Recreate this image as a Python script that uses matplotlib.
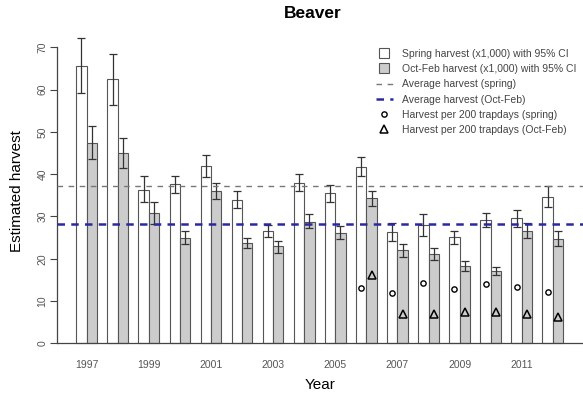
import numpy as np
import matplotlib
matplotlib.use("Agg")
import matplotlib.pyplot as plt
from matplotlib.lines import Line2D

plt.rcParams['font.family'] = ['Liberation Sans', 'DejaVu Sans']

years = list(range(1997, 2013))
spring = [65.6, 62.4, 36.3, 37.6, 41.9, 33.9, 26.6, 38.0, 35.5, 41.8, 26.4, 28.0, 25.1, 29.2, 29.6, 34.7]
spring_lo = [59.1, 56.3, 33.3, 35.6, 39.3, 31.9, 25.2, 35.9, 33.3, 39.6, 24.3, 25.4, 23.5, 27.6, 27.6, 32.3]
spring_hi = [72.1, 68.3, 39.6, 39.6, 44.5, 35.9, 28.0, 40.0, 37.4, 44.1, 28.4, 30.5, 26.6, 30.9, 31.5, 37.2]
octfeb = [47.4, 45.1, 30.7, 25.0, 36.0, 23.8, 22.9, 28.8, 26.2, 34.3, 22.1, 21.1, 18.3, 17.2, 26.6, 24.7]
octfeb_lo = [43.5, 41.5, 28.1, 23.4, 34.2, 22.6, 21.4, 27.2, 24.7, 32.5, 20.3, 19.7, 17.2, 16.2, 24.9, 22.9]
octfeb_hi = [51.3, 48.6, 33.3, 26.5, 37.8, 25.0, 24.2, 30.5, 27.7, 36.0, 23.4, 22.6, 19.4, 18.1, 28.4, 26.5]
avg_spring = 37.2
avg_octfeb = 28.2
# trapday rates only from 2006 on
trap_years = [2006, 2007, 2008, 2009, 2010, 2011, 2012]
trap_spring = [13.0, 12.0, 14.2, 12.8, 14.0, 13.3, 12.2]
trap_octfeb = [16.2, 6.9, 6.9, 7.3, 7.5, 6.9, 6.3]

fig = plt.figure(figsize=(5.83, 4.0), dpi=100)
ax = fig.add_axes([57.3 / 583, 1 - 355.5 / 400, 1 - 57.3 / 583, (355.5 - 26.6) / 400])

n = len(years)
idx = np.arange(n)
x_sp = 1.5 + 3 * idx
x_of = 2.5 + 3 * idx
edge = '#555555'

ax.bar(x_sp, spring, width=1.0, color='white', edgecolor=edge, linewidth=0.8, zorder=2)
ax.bar(x_of, octfeb, width=1.0, color='#cccccc', edgecolor=edge, linewidth=0.8, zorder=2)

sp = np.array(spring)
of = np.array(octfeb)
ax.errorbar(x_sp, sp, yerr=[sp - np.array(spring_lo), np.array(spring_hi) - sp],
            fmt='none', ecolor='#333333', elinewidth=0.9, capsize=3, capthick=0.9, zorder=3)
ax.errorbar(x_of, of, yerr=[of - np.array(octfeb_lo), np.array(octfeb_hi) - of],
            fmt='none', ecolor='#333333', elinewidth=0.9, capsize=3, capthick=0.9, zorder=3)

ax.axhline(avg_spring, color='#777777', lw=1.0, ls=(0, (4, 4)), zorder=4)
ax.axhline(avg_octfeb, color='#2a2aa0', lw=1.8, ls=(0, (3, 2.5)), zorder=4)

ti = np.array([years.index(y) for y in trap_years])
ax.plot(1.5 + 3 * ti, trap_spring, 'o', ms=3.8, mfc='white', mec='black', mew=1.0, ls='none', zorder=5)
ax.plot(2.5 + 3 * ti, trap_octfeb, '^', ms=5.8, mfc='none', mec='black', mew=1.1, ls='none', zorder=5)

ax.axhline(0, color='#444444', lw=0.9, zorder=3)

ax.set_xlim(-0.83, 49.91)
ax.set_ylim(-2.88, 74.88)
for s in ['top', 'right', 'bottom']:
    ax.spines[s].set_visible(False)
ax.spines['left'].set_bounds(0, 70)
ax.spines['left'].set_color('#444444')
ax.spines['left'].set_linewidth(0.9)

ax.set_yticks(range(0, 80, 10))
ax.tick_params(axis='y', length=5, color='#444444', labelsize=7.5, labelcolor='#555555', pad=2)
for lab in ax.get_yticklabels():
    lab.set_rotation(90)
    lab.set_va('center')

odd = [i for i, y in enumerate(years) if y % 2 == 1]
ax.set_xticks(2 + 3 * np.array(odd))
ax.set_xticklabels([str(years[i]) for i in odd])
ax.tick_params(axis='x', length=0, labelsize=7.5, labelcolor='#555555', pad=3)

ax.set_ylabel('Estimated harvest', fontsize=11, labelpad=10)
ax.set_xlabel('Year', fontsize=11, labelpad=6)
fig.text(313 / 583, 1 - 14 / 400, 'Beaver', fontsize=12.5, fontweight='bold', ha='center', va='center')

handles = [
    Line2D([], [], marker='s', ms=7.5, mfc='white', mec=edge, mew=0.8, ls='none'),
    Line2D([], [], marker='s', ms=7.5, mfc='#cccccc', mec=edge, mew=0.8, ls='none'),
    Line2D([], [], color='#777777', lw=1.0, ls=(0, (4, 4))),
    Line2D([], [], color='#2a2aa0', lw=1.8, ls=(0, (3, 2.5))),
    Line2D([], [], marker='o', ms=3.8, mfc='white', mec='black', mew=1.0, ls='none'),
    Line2D([], [], marker='^', ms=5.8, mfc='none', mec='black', mew=1.1, ls='none'),
]
labels = ['Spring harvest (x1,000) with 95% CI',
          'Oct-Feb harvest (x1,000) with 95% CI',
          'Average harvest (spring)',
          'Average harvest (Oct-Feb)',
          'Harvest per 200 trapdays (spring)',
          'Harvest per 200 trapdays (Oct-Feb)']
leg = fig.legend(handles, labels, loc='upper left', bbox_to_anchor=(376 / 583, 1 - 49 / 400),
                 frameon=False, fontsize=7.5, handlelength=1.6, handleheight=0.8,
                 handletextpad=0.9, labelspacing=0.5, borderpad=0, borderaxespad=0)
for t in leg.get_texts():
    t.set_color('#444444')

fig.savefig('out.png', dpi=100)
